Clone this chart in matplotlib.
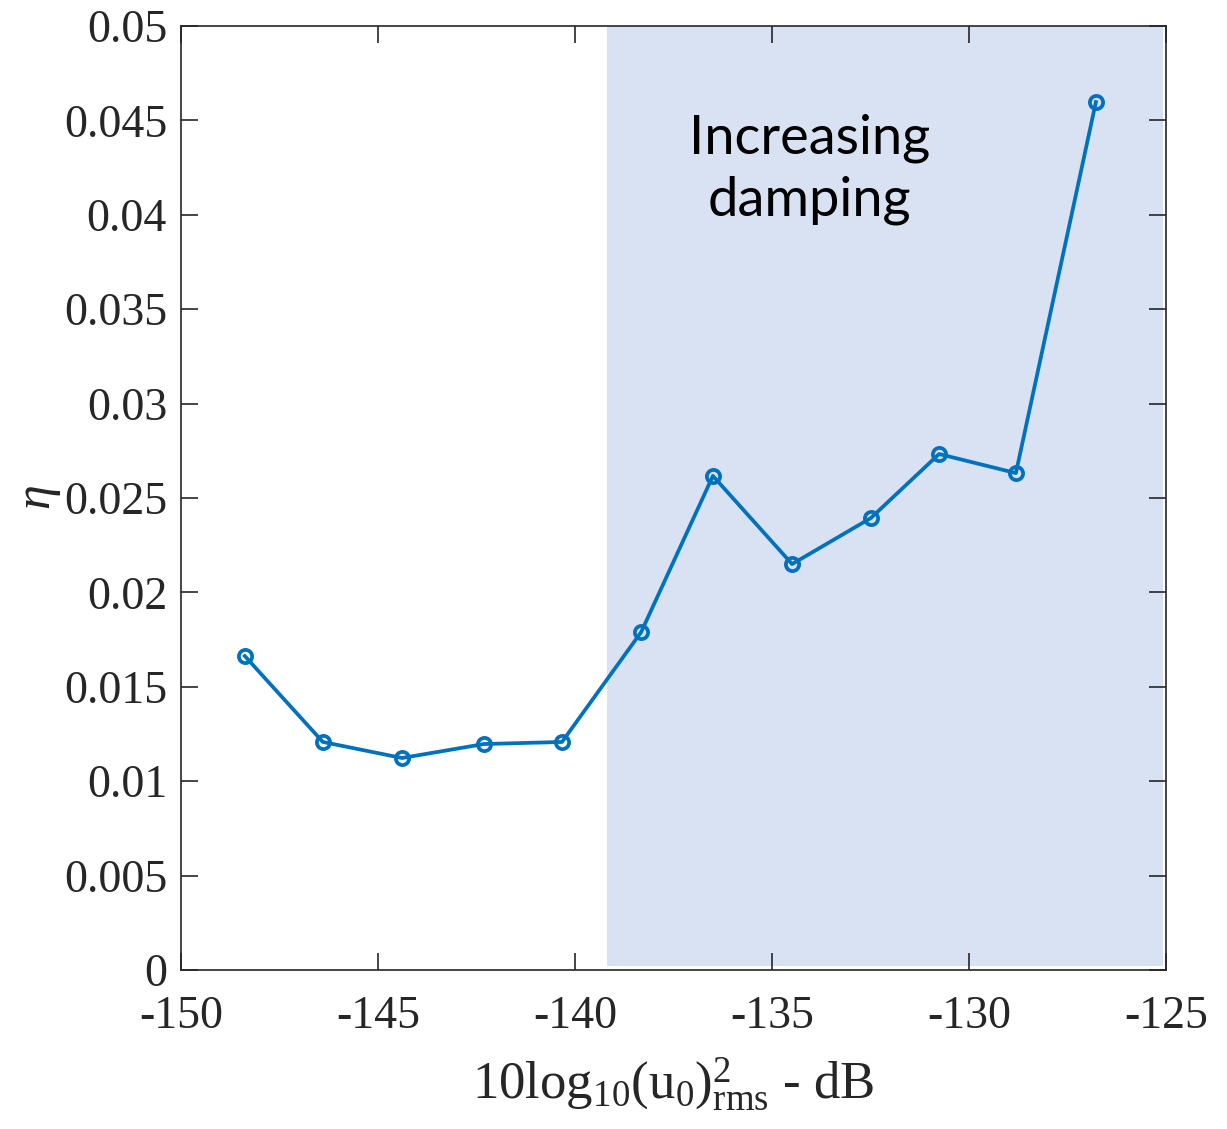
import numpy as np
import matplotlib.pyplot as plt

# level (dB) and loss factor eta
level = [-148.38, -146.40, -144.39, -142.31, -140.33, -138.32,
         -136.50, -134.49, -132.49, -130.76, -128.81, -126.78]
eta = [0.01663, 0.01208, 0.01123, 0.01197, 0.01208, 0.0179,
       0.02617, 0.0215, 0.02394, 0.02733, 0.02632, 0.04597]

shade_x = [-139.19, -125.08]
xticks = [-150, -145, -140, -135, -130, -125]
yticks = [0, 0.005, 0.01, 0.015, 0.02, 0.025, 0.03, 0.035, 0.04, 0.045, 0.05]
ytick_labels = ['0', '0.005', '0.01', '0.015', '0.02', '0.025', '0.03',
                '0.035', '0.04', '0.045', '0.05']

plt.rcParams['font.family'] = 'Liberation Serif'
plt.rcParams['mathtext.fontset'] = 'custom'
plt.rcParams['mathtext.rm'] = 'Liberation Serif'
plt.rcParams['mathtext.it'] = 'Liberation Serif:italic'

fig = plt.figure(figsize=(12.27, 11.29), dpi=100)
ax = fig.add_axes([0.1475, 0.1408, 0.8028, 0.8362])

ax.fill_between(shade_x, 0.0002, 0.05, color='#d9e2f3', linewidth=0, zorder=0)
ax.plot(level, eta, color='#0072BD', lw=2.7, marker='o', ms=9.5,
        mfc='none', mec='#0072BD', mew=2.7, zorder=3)

ax.text(-134.04, 0.0424, 'Increasing\ndamping', family='Lato', fontsize=39,
        ha='center', va='center', linespacing=1.3, color='black')

ax.set_xlim(-150, -125)
ax.set_ylim(0, 0.05)
ax.set_xticks(xticks)
ax.set_xticklabels([str(t) for t in xticks])
ax.set_yticks(yticks)
ax.set_yticklabels(ytick_labels)

ax.tick_params(direction='in', length=12, width=1.2, top=True, right=True,
               labelsize=33, colors='#262626')
ax.tick_params(axis='x', pad=18)
ax.tick_params(axis='y', pad=10)
for s in ax.spines.values():
    s.set_color('#262626')
    s.set_linewidth(1.2)

ax.set_xlabel(r'$\mathrm{10log_{10}(u_0)^2_{rms}}$ - dB', fontsize=38,
              color='#262626')
ax.xaxis.set_label_coords(0.5, -0.09)
ax.set_ylabel(r'$\eta$', fontsize=36, color='#262626')
ax.yaxis.set_label_coords(-0.12, 0.5)

fig.savefig('out.png', dpi=100)
